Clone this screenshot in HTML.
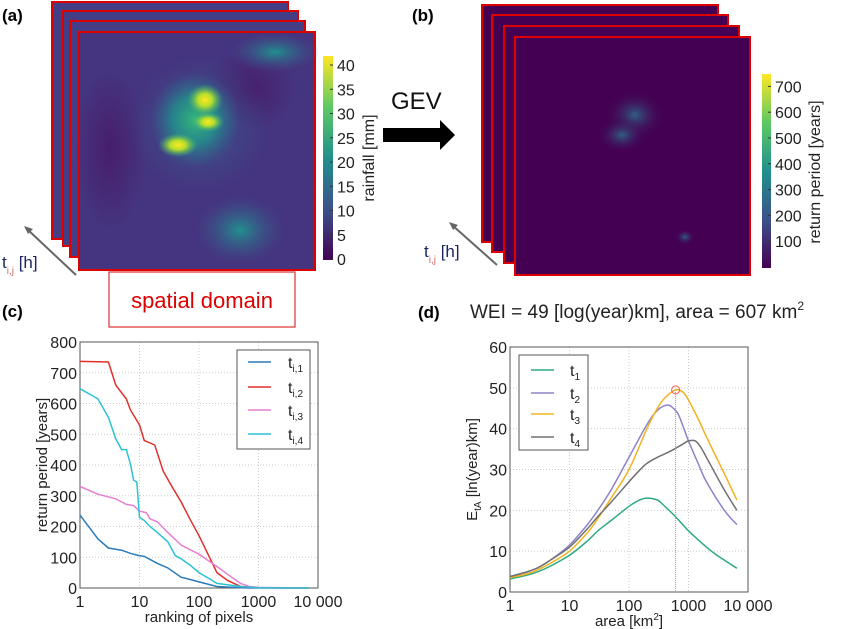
<!DOCTYPE html>
<html><head><meta charset="utf-8"><style>
body{margin:0;background:#fff;width:854px;height:629px;overflow:hidden;font-family:"Liberation Sans",sans-serif}
svg{position:absolute;left:0;top:0}
text{font-family:"Liberation Sans",sans-serif}
</style></head><body>
<svg id="s" width="854" height="629" viewBox="0 0 854 629">
<defs>
<linearGradient id="vir" x1="0" y1="1" x2="0" y2="0">
<stop offset="0" stop-color="#440154"/><stop offset="0.25" stop-color="#3b528b"/><stop offset="0.5" stop-color="#21908d"/><stop offset="0.75" stop-color="#5dc963"/><stop offset="1" stop-color="#fde725"/></linearGradient>
<radialGradient id="gy"><stop offset="0" stop-color="#fde725"/><stop offset="0.4" stop-color="#b5de2b"/><stop offset="1" stop-color="#35b779" stop-opacity="0"/></radialGradient>
<radialGradient id="gg"><stop offset="0" stop-color="#35b779"/><stop offset="0.5" stop-color="#21918c" stop-opacity="0.8"/><stop offset="1" stop-color="#31688e" stop-opacity="0"/></radialGradient>
<radialGradient id="g2"><stop offset="0" stop-color="#21908d"/><stop offset="1" stop-color="#3b528b" stop-opacity="0"/></radialGradient>
<radialGradient id="g3"><stop offset="0" stop-color="#471e6b"/><stop offset="1" stop-color="#471e6b" stop-opacity="0"/></radialGradient>
<radialGradient id="g4"><stop offset="0" stop-color="#2a788e" stop-opacity="0.8"/><stop offset="1" stop-color="#440154" stop-opacity="0"/></radialGradient>
<radialGradient id="g5"><stop offset="0" stop-color="#3b528b"/><stop offset="1" stop-color="#3b528b" stop-opacity="0"/></radialGradient>
</defs>
<text x="2" y="21" font-size="17" font-weight="bold">(a)</text>
<g>
<rect x="52" y="2" width="236" height="237" fill="#433e85" stroke="#d00" stroke-width="2"/>
<rect x="63" y="11" width="235" height="235" fill="#433e85" stroke="#d00" stroke-width="2"/>
<rect x="70" y="21" width="235" height="236" fill="#433e85" stroke="#d00" stroke-width="2"/>
<rect x="79" y="32" width="236" height="238" fill="#45347f" stroke="#d00" stroke-width="2"/>
<ellipse cx="110" cy="150" rx="35" ry="80" fill="url(#g3)"/>
<ellipse cx="250" cy="90" rx="45" ry="40" fill="url(#g3)"/>
<ellipse cx="275" cy="52" rx="45" ry="20" fill="url(#g2)"/>
<ellipse cx="200" cy="125" rx="70" ry="70" fill="url(#g5)"/>
<ellipse cx="195" cy="120" rx="45" ry="48" fill="url(#gg)"/>
<ellipse cx="205" cy="100" rx="18" ry="16" fill="url(#gy)"/>
<ellipse cx="208" cy="122" rx="16" ry="10" fill="url(#gy)"/>
<ellipse cx="178" cy="145" rx="20" ry="12" fill="url(#gy)"/>
<ellipse cx="240" cy="230" rx="45" ry="35" fill="url(#g2)"/>
</g>
<rect x="323" y="56" width="10" height="204" fill="url(#vir)"/>
<g font-size="16" fill="#222" id="cba"></g>
<text transform="translate(374,158) rotate(-90)" text-anchor="middle" font-size="16" fill="#222">rainfall [mm]</text>
<line x1="76" y1="275" x2="27" y2="229" stroke="#666" stroke-width="2"/>
<polygon points="24,226 33,229 28,234" fill="#666"/>
<text x="2" y="268" font-size="17" fill="#1d2460">t<tspan font-size="10" dy="6" fill="#c66">i,j</tspan><tspan dy="-6"> [h]</tspan></text>
<rect x="109" y="272" width="186" height="55" fill="#fff" stroke="#d33" stroke-width="1.2"/>
<text x="202" y="308" text-anchor="middle" font-size="22" fill="#d00">spatial domain</text>
<text x="391" y="109" font-size="24" fill="#111">GEV</text>
<polygon points="383,128 440,128 440,120 455,135 440,150 440,142 383,142" fill="#000"/>
<text x="412" y="21" font-size="17" font-weight="bold">(b)</text>
<g>
<rect x="482" y="5" width="236" height="237" fill="#440154" stroke="#d00" stroke-width="2"/>
<rect x="492" y="15" width="236" height="237" fill="#440154" stroke="#d00" stroke-width="2"/>
<rect x="504" y="26" width="235" height="237" fill="#440154" stroke="#d00" stroke-width="2"/>
<rect x="515" y="37" width="235" height="238" fill="#440154" stroke="#d00" stroke-width="2"/>
<ellipse cx="635" cy="115" rx="30" ry="25" fill="url(#g4)"/>
<ellipse cx="622" cy="135" rx="25" ry="18" fill="url(#g4)"/>
<ellipse cx="685" cy="237" rx="10" ry="8" fill="url(#g4)"/>
</g>
<rect x="762" y="74" width="9" height="194" fill="url(#vir)"/>
<g font-size="16" fill="#222" id="cbb"></g>
<text transform="translate(820,172) rotate(-90)" text-anchor="middle" font-size="16" fill="#222">return period [years]</text>
<line x1="497" y1="265" x2="452" y2="225" stroke="#666" stroke-width="2"/>
<polygon points="449,222 458,225 453,230" fill="#666"/>
<text x="424" y="257" font-size="17" fill="#1d2460">t<tspan font-size="10" dy="6" fill="#c66">i,j</tspan><tspan dy="-6"> [h]</tspan></text>
<text x="2" y="317" font-size="17" font-weight="bold">(c)</text>
<text x="418" y="318" font-size="17" font-weight="bold">(d)</text>
<text x="470" y="318" font-size="19" fill="#222">WEI = 49 [log(year)km], area = 607 km<tspan font-size="12" dy="-8">2</tspan></text>
<g id="pc"></g><g id="pd"></g>
</svg>
<script>
// ---- panel c data ----
const c1x=[1,2,3,5,7,10,12,20,30,50,70,100,200,500,1000,7000];
const c1y=[237,160,130,123,113,105,103,80,65,35,28,20,5,1,0,0];
const c2x=[1,3,4,6,7,10,12,18,25,35,50,70,100,150,200,300,500,1000,7000];
const c2y=[737,735,660,615,580,530,480,465,380,330,280,225,170,100,50,25,5,1,0];
const c3x=[1,2,4,6,8,10,13,15,20,30,50,70,100,200,300,500,700,1000,7000];
const c3y=[330,305,290,272,268,250,245,225,215,180,140,125,110,70,45,15,5,2,0];
const c4x=[1,2,3,4,5,6,7,8,9,10,12,15,20,30,40,50,70,100,150,200,500,1000,7000];
const c4y=[648,615,555,485,450,450,405,350,345,230,220,200,180,150,105,95,75,50,30,15,5,1,0];
const cLabels=["1","2","3","4"];
const cColors=["#2b7bba","#e0302b","#e77fd0","#2bc3d4"];
const cYTicks=[0,100,200,300,400,500,600,700,800];
const xTickLabels=["1","10","100","1000","10 000"];
// ---- panel d data ----
const d1x=[1,2,3,5,10,20,30,50,100,150,200,300,400,600,1000,2000,3000,6500];
const d1y=[3.2,4.2,5,6.5,9,12.5,15,17.5,21,22.5,23,22.5,21,18.5,15,11,9,5.8];
const d2x=[1,2,3,5,10,20,30,50,100,200,300,450,600,700,1000,1500,2000,4000,6500];
const d2y=[3.8,5,6,8,11.5,16.5,20,25,33,41,44.5,45.8,44.5,43,37,31,27,20,16.5];
const d3x=[1,2,3,5,10,20,30,50,100,200,300,400,600,800,1000,1500,2000,4000,6500];
const d3y=[3.5,4.5,5.5,7.2,10,14.5,18,23,30,40,45,47.5,49.5,49,47,42,38,29,22.5];
const d4x=[1,2,3,5,10,20,30,50,100,150,200,300,500,800,1000,1300,1600,2000,4000,6500];
const d4y=[3.8,5,6,8,11,15.5,18.5,22,27,29.8,31.5,33,34.5,36.2,37,37,35.5,33,25,20];
const dColors=["#2eaa84","#8e83c9","#f0b320","#707070"];
const dYTicks=[0,10,20,30,40,50,60];
const peakArea=607, peakVal=49.5;
const cbaTicks=[0,5,10,15,20,25,30,35,40];
const cbbTicks=[100,200,300,400,500,600,700];

const NS="http://www.w3.org/2000/svg";
function mk(p,t,a){const e=document.createElementNS(NS,t);for(const k in a)e.setAttribute(k,a[k]);p.appendChild(e);return e;}

const cba=document.getElementById('cba');
cbaTicks.forEach(v=>{const y=259-v*4.85;
 const l=mk(cba,'line',{x1:330,x2:333,y1:y,y2:y,stroke:'#333'});
 
 
 const t=mk(cba,'text',{x:337,y:y+6});t.textContent=v;
 
 });
const cbb=document.getElementById('cbb');
cbbTicks.forEach(v=>{const y=267-v*0.258;
 const l=mk(cbb,'line',{x1:768,x2:771,y1:y,y2:y,stroke:'#333'});
 
 
 const t=mk(cbb,'text',{x:775,y:y+6});t.textContent=v;
 
 });

function pathFor(pts,smooth){
 if(!smooth) return pts.map((p,j)=>(j?'L':'M')+p[0].toFixed(1)+','+p[1].toFixed(1)).join('');
 let d='M'+pts[0][0].toFixed(1)+','+pts[0][1].toFixed(1);
 for(let i=0;i<pts.length-1;i++){
  const p0=pts[Math.max(0,i-1)],p1=pts[i],p2=pts[i+1],p3=pts[Math.min(pts.length-1,i+2)];
  const c1=[p1[0]+(p2[0]-p0[0])/6,p1[1]+(p2[1]-p0[1])/6],c2=[p2[0]-(p3[0]-p1[0])/6,p2[1]-(p3[1]-p1[1])/6];
  d+='C'+c1.map(v=>v.toFixed(1))+' '+c2.map(v=>v.toFixed(1))+' '+p2.map(v=>v.toFixed(1));
 }
 return d;
}
function panel(g,L,R,T,B,ymax,yticks,xs,ys,colors,names,xtitle,ytitle,leg,smooth){
 const sx=v=>L+(R-L)*Math.log10(v)/4, sy=v=>B-(B-T)*v/ymax;
 for(let i=0;i<=4;i++){const x=sx(Math.pow(10,i));
  const gl=mk(g,'line',{x1:x,x2:x,y1:T,y2:B,stroke:'#ccc','stroke-dasharray':'1,2'});
  
  
  const t=mk(g,'text',{x:x,y:B+19,'text-anchor':'middle','font-size':16,fill:'#222'});t.textContent=xTickLabels[i];
  
  }
 yticks.forEach(v=>{const y=sy(v);
  const gl=mk(g,'line',{x1:L,x2:R,y1:y,y2:y,stroke:'#ccc','stroke-dasharray':'1,2'});
  
  
  const t=mk(g,'text',{x:L-3,y:y+6,'text-anchor':'end','font-size':16,fill:'#222'});t.textContent=v;
  
  });
 const fr=mk(g,'rect',{x:L,y:T,width:R-L,height:B-T,fill:'none',stroke:'#555'});
 
 
 xs.forEach((xa,i)=>{const pts=xa.map((x,j)=>[sx(x),sy(ys[i][j])]);
  const p=mk(g,'path',{d:pathFor(pts,smooth),fill:'none',stroke:colors[i],'stroke-width':1.5});
  
  });
 const xt=mk(g,'text',{x:(L+R)/2,y:B+34,'text-anchor':'middle','font-size':15,fill:'#222'});xt.innerHTML=xtitle;
 
 
 const yt=mk(g,'text',{transform:`translate(${L-33},${(T+B)/2}) rotate(-90)`,'text-anchor':'middle','font-size':15,fill:'#222'});yt.innerHTML=ytitle;
 
 
 const lb=mk(g,'rect',{x:leg.x,y:leg.y,width:leg.w,height:leg.h,fill:'#fff',stroke:'#555'});
 
 
 names.forEach((n,i)=>{const y=leg.ys[i];
  const l=mk(g,'line',{x1:leg.lx,x2:leg.lx+23,y1:y,y2:y,stroke:colors[i],'stroke-width':1.6});
  
  
  const t=mk(g,'text',{x:leg.tx,y:y+6,'font-size':16,fill:'#222'});t.innerHTML=n;
  
  });
 return {sx,sy};
}
panel(document.getElementById('pc'),80,318,342,588,800,cYTicks,[c1x,c2x,c3x,c4x],[c1y,c2y,c3y,c4y],cColors,
 cLabels.map(s=>'t<tspan font-size="10" dy="4">i,'+s+'</tspan>'),'ranking of pixels','return period [years]',
 {x:237,y:350,w:73,h:99,lx:248,tx:288,ys:[362,387,410,434]},false);
const P=panel(document.getElementById('pd'),510,748,347,592,60,dYTicks,[d1x,d2x,d3x,d4x],[d1y,d2y,d3y,d4y],dColors,
 cLabels.map(s=>'t<tspan font-size="10" dy="4">'+s+'</tspan>'),'area [km<tspan font-size="10" dy="-6">2</tspan><tspan dy="6">]</tspan>','E<tspan font-size="10" dy="4">tA</tspan><tspan dy="-4"> [ln(year)km]</tspan>',
 {x:519,y:355,w:69,h:95,lx:531,tx:570,ys:[370,393,414,437]},true);
const pd=document.getElementById('pd');
const vl=mk(pd,'line',{x1:P.sx(peakArea),x2:P.sx(peakArea),y1:P.sy(peakVal),y2:592,stroke:'#f66','stroke-dasharray':'1,1'});


const pc=mk(pd,'circle',{cx:P.sx(peakArea),cy:P.sy(peakVal),r:4,fill:'none',stroke:'#f55'});


</script>
</body></html>
